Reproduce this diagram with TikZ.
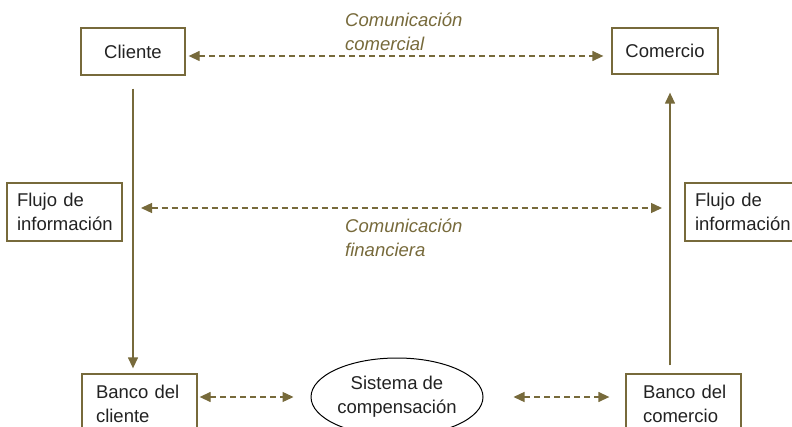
\documentclass[tikz,border=0pt]{standalone}
\usepackage{fontspec}
\setmainfont{Liberation Sans}
\usetikzlibrary{arrows.meta,shapes.geometric}
\definecolor{oliva}{RGB}{119,106,59}
\definecolor{texto}{RGB}{34,34,34}

\begin{document}
\begin{tikzpicture}[x=1pt,y=-1pt,
  caja/.style={draw=oliva,line width=1.3pt,text=texto,inner sep=0pt},
  rotulo/.style={text=oliva,font=\itshape,align=left,anchor=west,inner sep=0pt},
  flecha/.style={draw=oliva,line width=1.3pt,-{Triangle[length=11pt,width=10pt]}},
  doble/.style={flecha,{Triangle[length=11pt,width=10pt]}-{Triangle[length=11pt,width=10pt]},dash pattern=on 6pt off 4pt}]
\useasboundingbox (0,0) rectangle (792,427);
\fontsize{18.5}{24}\selectfont
\node [caja,minimum width=104pt,minimum height=47pt] (cliente) at (133,51.5) {Cliente};
\node [caja,minimum width=106pt,minimum height=46pt] (comercio) at (665,51) {Comercio};
\node [caja,minimum width=115pt,minimum height=58pt,align=left,text width=95pt] (flujoI) at (64.5,212) {Flujo de\\información};
\node [caja,minimum width=115pt,minimum height=58pt,align=left,text width=95pt] (flujoD) at (742.5,212) {Flujo de\\información};
\node [caja,minimum width=115pt,minimum height=60pt,align=left,text width=87pt] (bancoC) at (139.5,404) {Banco~del\\cliente};
\node [caja,minimum width=115pt,minimum height=60pt,align=left,text width=81pt] (bancoM) at (683.5,404) {Banco~del\\comercio};
\node [draw=black,line width=1pt,ellipse,minimum width=172pt,minimum height=78pt,align=center,text=texto,inner sep=0pt] (sistema) at (397,397) {Sistema de\\compensación};
\node [rotulo] (comunicacionC) at (345,32) {Comunicación\\comercial};
\node [rotulo] (comunicacionF) at (345,238) {Comunicación\\financiera};
\coordinate (izq) at (133,208);
\coordinate (der) at (670,208);
\draw [doble,shorten <=3pt,shorten >=8pt] ([yshift=-4.5pt]cliente.east) -- ([yshift=-4.5pt]comercio.west |- cliente.east);
\draw [flecha,shorten <=13pt,shorten >=5pt] (cliente.south) -- (cliente.south |- bancoC.north);
\draw [flecha,shorten <=8pt,shorten >=18pt] ([xshift=5pt]comercio.south |- bancoM.north) -- ([xshift=5pt]comercio.south);
\draw [doble,shorten <=8pt,shorten >=8pt] (izq) -- (der);
\draw [doble,shorten <=2pt,shorten >=17pt] (bancoC.east |- sistema.west) -- (sistema.west);
\draw [doble,shorten <=30pt,shorten >=16pt] (sistema.east) -- (bancoM.west |- sistema.east);
\end{tikzpicture}
\end{document}
